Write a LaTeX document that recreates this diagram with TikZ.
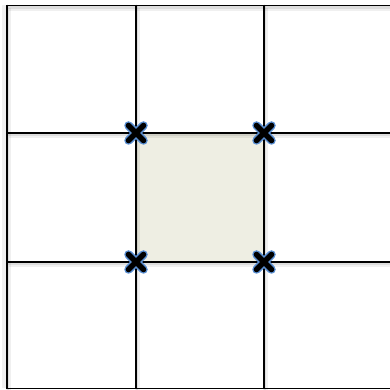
\documentclass[tikz,border=0pt]{standalone}
\usetikzlibrary{calc}
\definecolor{cellfill}{HTML}{EEEEE3}
\definecolor{xblue}{HTML}{5A8FD2}
\tikzset{
  gridline/.style={line width=1.6pt, black},
  shadowA/.style={line width=5pt, black, opacity=0.06},
  shadowB/.style={line width=2.5pt, black, opacity=0.08},
  marker/.style={inner sep=0pt, minimum size=22pt},
}
\newcommand{\shline}[2]{%
  \draw[shadowA] ($#1+(1.5pt,-3pt)$) -- ($#2+(1.5pt,-3pt)$);
  \draw[shadowB] ($#1+(1pt,-1.8pt)$) -- ($#2+(1pt,-1.8pt)$);
  \draw[gridline] #1 -- #2;}
\newcommand{\xmark}[1]{%
  \draw[xblue, line width=8.5pt, line cap=round] ($(#1)+(-7.5pt,-7.5pt)$) -- ($(#1)+(7.5pt,7.5pt)$);
  \draw[xblue, line width=8.5pt, line cap=round] ($(#1)+(-7.5pt,7.5pt)$) -- ($(#1)+(7.5pt,-7.5pt)$);
  \draw[black, line width=5.6pt, line cap=round] ($(#1)+(-7.5pt,-7.5pt)$) -- ($(#1)+(7.5pt,7.5pt)$);
  \draw[black, line width=5.6pt, line cap=round] ($(#1)+(-7.5pt,7.5pt)$) -- ($(#1)+(7.5pt,-7.5pt)$);}
\begin{document}
\begin{tikzpicture}[x=1pt,y=1pt]
\useasboundingbox (0,0) rectangle (390,390);
\fill[white] (0,0) rectangle (390,390);
% centre cell
\fill[cellfill] (136,257) rectangle (264,128);
% left border shadow (to the left)
\draw[line width=4pt, black, opacity=0.06] (4,384.5) -- (4,1.5);
% horizontal lines
\shline{(7,384.5)}{(392,384.5)}
\shline{(7,257)}{(392,257)}
\shline{(7,128)}{(392,128)}
% vertical lines
\shline{(7,385.3)}{(7,0.7)}
\shline{(136,385.3)}{(136,0.7)}
\shline{(264,385.3)}{(264,0.7)}
% bottom border
\draw[gridline] (7,1.5) -- (392,1.5);
% markers
\node[marker] (m1) at (136,257) {};
\node[marker] (m2) at (264,257) {};
\node[marker] (m3) at (136,128) {};
\node[marker] (m4) at (264,128) {};
\xmark{m1}\xmark{m2}\xmark{m3}\xmark{m4}
\end{tikzpicture}
\end{document}
